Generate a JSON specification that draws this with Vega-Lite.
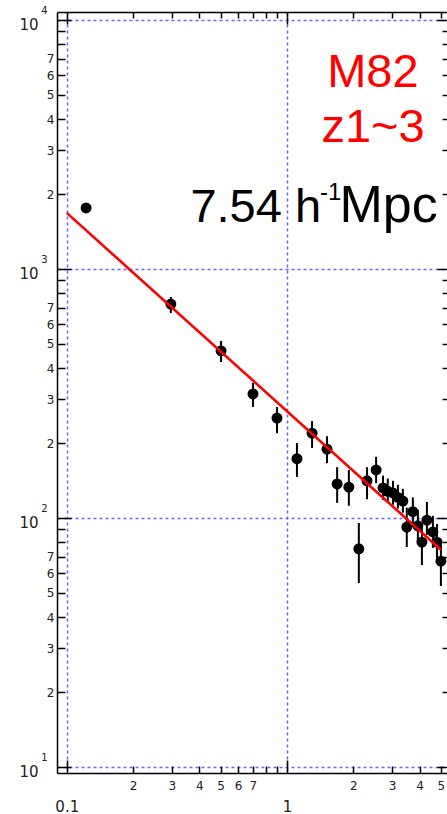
{
  "$schema": "https://vega.github.io/schema/vega-lite/v6.json",
  "width": 390,
  "height": 761,
  "autosize": {"type": "none"},
  "padding": {"left": 57, "top": 12, "right": 0, "bottom": 41},
  "background": "white",
  "config": {"view": {"stroke": null}},
  "datasets": {
    "pts": [
      {"x": 0.1224, "y": 1758, "lo": 1700, "hi": 1815},
      {"x": 0.297, "y": 723, "lo": 666, "hi": 772},
      {"x": 0.502, "y": 469, "lo": 423, "hi": 514},
      {"x": 0.701, "y": 315, "lo": 279, "hi": 349},
      {"x": 0.901, "y": 252, "lo": 219, "hi": 279},
      {"x": 1.11, "y": 173, "lo": 146, "hi": 200},
      {"x": 1.30, "y": 219, "lo": 191, "hi": 245},
      {"x": 1.52, "y": 189, "lo": 166, "hi": 213},
      {"x": 1.69, "y": 137, "lo": 115, "hi": 160},
      {"x": 1.91, "y": 133, "lo": 112, "hi": 156},
      {"x": 2.12, "y": 75.2, "lo": 54.8, "hi": 95.5},
      {"x": 2.31, "y": 141, "lo": 119, "hi": 160},
      {"x": 2.54, "y": 156, "lo": 138, "hi": 176},
      {"x": 2.73, "y": 132, "lo": 118, "hi": 148},
      {"x": 2.87, "y": 128, "lo": 115, "hi": 144},
      {"x": 3.03, "y": 126, "lo": 113, "hi": 141},
      {"x": 3.19, "y": 121, "lo": 109, "hi": 136},
      {"x": 3.36, "y": 117, "lo": 105, "hi": 131},
      {"x": 3.73, "y": 106, "lo": 92, "hi": 121},
      {"x": 3.50, "y": 92, "lo": 76.5, "hi": 110},
      {"x": 3.93, "y": 93, "lo": 80, "hi": 108},
      {"x": 4.32, "y": 98, "lo": 85.5, "hi": 116},
      {"x": 4.10, "y": 80, "lo": 64.7, "hi": 93.8},
      {"x": 4.60, "y": 87.9, "lo": 75.8, "hi": 102},
      {"x": 4.80, "y": 80, "lo": 67.8, "hi": 94.6},
      {"x": 5.00, "y": 67.1, "lo": 53.3, "hi": 78}
    ],
    "fit": [
      {"x": 0.1, "y": 1680},
      {"x": 5.0, "y": 74.5}
    ]
  },
  "resolve": {"axis": {"x": "independent", "y": "independent"}},
  "layer": [
    {
      "data": {"name": "pts"},
      "mark": {"type": "rule", "color": "black", "strokeWidth": 2},
      "encoding": {
        "x": {"field": "x", "type": "quantitative",
          "scale": {"type": "log", "domain": [0.0903, 5.33], "nice": false},
          "axis": {"orient": "bottom", "values": [0.1,0.2,0.3,0.4,0.5,0.6,0.7,0.8,0.9,1,2,3,4,5], "title": null,
            "labels": false, "domain": false, "grid": false, "ticks": true, "tickColor": "black", "tickWidth": 1.5,
            "tickSize": {"condition": {"test": "abs(log(datum.value)/LN10 - round(log(datum.value)/LN10)) < 0.001", "value": -13}, "value": -7}}},
        "y": {"field": "lo", "type": "quantitative",
          "scale": {"type": "log", "domain": [9.46, 10766], "nice": false},
          "axis": {"orient": "left", "values": [10,20,30,40,50,60,70,80,90,100,200,300,400,500,600,700,800,900,1000,2000,3000,4000,5000,6000,7000,8000,9000,10000], "title": null,
            "labels": false, "domain": false, "grid": false, "ticks": true, "tickColor": "black", "tickWidth": 1.5,
            "tickSize": {"condition": {"test": "abs(log(datum.value)/LN10 - round(log(datum.value)/LN10)) < 0.001", "value": -14}, "value": -8}}},
        "y2": {"field": "hi"}
      }
    },
    {
      "data": {"name": "pts"},
      "mark": {"type": "circle", "size": 120, "color": "black", "opacity": 1},
      "encoding": {
        "x": {"field": "x", "type": "quantitative",
          "scale": {"type": "log", "domain": [0.0903, 5.33], "nice": false},
          "axis": {"orient": "bottom", "values": [0.1,0.2,0.3,0.4,0.5,0.6,0.7,0.8,0.9,1,2,3,4,5], "title": null,
            "ticks": false, "domain": true, "domainColor": "black", "domainWidth": 1.5,
            "labelExpr": "round(datum.value / pow(10, floor(log(datum.value)/LN10 + 0.0001))) == 1 ? (datum.value < 0.5 ? '0.1' : '1') : (round(datum.value / pow(10, floor(log(datum.value)/LN10 + 0.0001))) <= 7 ? '' + round(datum.value / pow(10, floor(log(datum.value)/LN10 + 0.0001))) : '')",
            "labelFont": "DejaVu Sans", "labelColor": "#222222",
            "labelFontSize": {"condition": {"test": "abs(log(datum.value)/LN10 - round(log(datum.value)/LN10)) < 0.001", "value": 15}, "value": 12},
            "labelPadding": {"condition": {"test": "abs(log(datum.value)/LN10 - round(log(datum.value)/LN10)) < 0.001", "value": 26}, "value": 7},
            "labelBaseline": "top", "labelAlign": "center", "labelOverlap": false, "labelFlush": false, "labelBound": false,
            "grid": true, "gridColor": "#6666ff", "gridDash": [3, 3], "gridWidth": 1.5,
            "gridOpacity": {"condition": {"test": "abs(log(datum.value)/LN10 - round(log(datum.value)/LN10)) < 0.001", "value": 1}, "value": 0}}},
        "y": {"field": "y", "type": "quantitative",
          "scale": {"type": "log", "domain": [9.46, 10766], "nice": false},
          "axis": {"orient": "left", "values": [10,20,30,40,50,60,70,80,90,100,200,300,400,500,600,700,800,900,1000,2000,3000,4000,5000,6000,7000,8000,9000,10000], "title": null,
            "ticks": false, "domain": true, "domainColor": "black", "domainWidth": 1.5,
            "labelExpr": "round(datum.value / pow(10, floor(log(datum.value)/LN10 + 0.0001))) == 1 ? '10' : (round(datum.value / pow(10, floor(log(datum.value)/LN10 + 0.0001))) <= 7 ? '' + round(datum.value / pow(10, floor(log(datum.value)/LN10 + 0.0001))) : '')",
            "labelFont": "DejaVu Sans", "labelColor": "#222222",
            "labelFontSize": {"condition": {"test": "abs(log(datum.value)/LN10 - round(log(datum.value)/LN10)) < 0.001", "value": 15}, "value": 12},
            "labelPadding": {"condition": {"test": "abs(log(datum.value)/LN10 - round(log(datum.value)/LN10)) < 0.001", "value": 19}, "value": 3},
            "labelOffset": {"condition": {"test": "abs(log(datum.value)/LN10 - round(log(datum.value)/LN10)) < 0.001", "value": 5}, "value": 0},
            "labelOverlap": false, "labelFlush": false, "labelBound": false,
            "grid": true, "gridColor": "#6666ff", "gridDash": [3, 3], "gridWidth": 1.5,
            "gridOpacity": {"condition": {"test": "abs(log(datum.value)/LN10 - round(log(datum.value)/LN10)) < 0.001", "value": 1}, "value": 0}}}
      }
    },
    {
      "data": {"name": "fit"},
      "mark": {"type": "line", "color": "#ff0000", "strokeWidth": 2.6},
      "encoding": {
        "x": {"field": "x", "type": "quantitative",
          "scale": {"type": "log", "domain": [0.0903, 5.33], "nice": false},
          "axis": {"orient": "top", "values": [0.1,0.2,0.3,0.4,0.5,0.6,0.7,0.8,0.9,1,2,3,4,5], "title": null,
            "labels": false, "domain": true, "domainColor": "black", "domainWidth": 1.5, "grid": false,
            "ticks": true, "tickColor": "black", "tickWidth": 1.5,
            "tickSize": {"condition": {"test": "abs(log(datum.value)/LN10 - round(log(datum.value)/LN10)) < 0.001", "value": -12}, "value": -6}}},
        "y": {"field": "y", "type": "quantitative",
          "scale": {"type": "log", "domain": [9.46, 10766], "nice": false},
          "axis": {"orient": "right", "values": [10,20,30,40,50,60,70,80,90,100,200,300,400,500,600,700,800,900,1000,2000,3000,4000,5000,6000,7000,8000,9000,10000], "title": null,
            "labels": false, "domain": false, "grid": false, "ticks": true, "tickColor": "black", "tickWidth": 1.5,
            "tickSize": {"condition": {"test": "abs(log(datum.value)/LN10 - round(log(datum.value)/LN10)) < 0.001", "value": -10}, "value": -5}}}
      }
    },
    {
      "data": {"values": [
        {"x": 2.456, "y": 5383, "label": "M82"},
        {"x": 2.46, "y": 3236, "label": "z1~3"}
      ]},
      "mark": {"type": "text", "font": "Liberation Sans", "fontSize": 47, "color": "#ff0000", "align": "center", "baseline": "alphabetic"},
      "encoding": {
        "x": {"field": "x", "type": "quantitative", "scale": {"type": "log", "domain": [0.0903, 5.33], "nice": false}, "axis": null},
        "y": {"field": "y", "type": "quantitative",
          "scale": {"type": "log", "domain": [9.46, 10766], "nice": false},
          "axis": {"orient": "left", "values": [10, 100, 1000, 10000], "title": null,
            "ticks": false, "domain": false, "grid": false,
            "labelExpr": "'' + round(log(datum.value)/LN10)",
            "labelFont": "DejaVu Sans", "labelFontSize": 10, "labelColor": "#222222",
            "labelPadding": 10, "labelOffset": -9, "labelOverlap": false, "labelFlush": false, "labelBound": false}},
        "text": {"field": "label"}
      }
    },
    {
      "data": {"values": [
        {"x": 0.3643, "y": 1546, "label": "7.54 h"}
      ]},
      "mark": {"type": "text", "font": "Liberation Sans", "fontSize": 47, "color": "black", "align": "left", "baseline": "alphabetic"},
      "encoding": {
        "x": {"field": "x", "type": "quantitative", "scale": {"type": "log", "domain": [0.0903, 5.33], "nice": false}, "axis": null},
        "y": {"field": "y", "type": "quantitative", "scale": {"type": "log", "domain": [9.46, 10766], "nice": false}, "axis": null},
        "text": {"field": "label"}
      }
    },
    {
      "data": {"values": [
        {"x": 1.731, "y": 1546, "label": "Mpc"}
      ]},
      "mark": {"type": "text", "font": "Liberation Sans", "fontSize": 52, "color": "black", "align": "left", "baseline": "alphabetic"},
      "encoding": {
        "x": {"field": "x", "type": "quantitative", "scale": {"type": "log", "domain": [0.0903, 5.33], "nice": false}, "axis": null},
        "y": {"field": "y", "type": "quantitative", "scale": {"type": "log", "domain": [9.46, 10766], "nice": false}, "axis": null},
        "text": {"field": "label"}
      }
    },
    {
      "data": {"values": [
        {"x": 1.412, "y": 1892, "label": "-1"}
      ]},
      "mark": {"type": "text", "font": "Liberation Sans", "fontSize": 24, "color": "black", "align": "left", "baseline": "alphabetic"},
      "encoding": {
        "x": {"field": "x", "type": "quantitative", "scale": {"type": "log", "domain": [0.0903, 5.33], "nice": false}, "axis": null},
        "y": {"field": "y", "type": "quantitative", "scale": {"type": "log", "domain": [9.46, 10766], "nice": false}, "axis": null},
        "text": {"field": "label"}
      }
    }
  ]
}
